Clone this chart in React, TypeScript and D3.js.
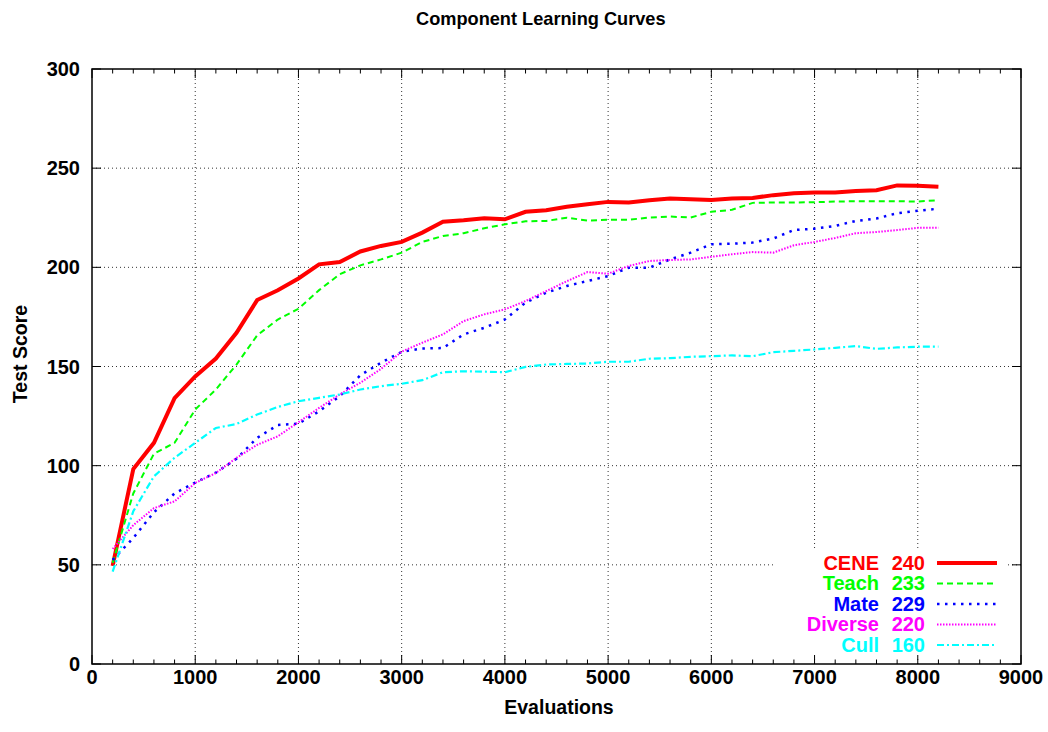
import React from "react";
import * as d3 from "d3";

const evaluations = [
  200, 400, 600, 800, 1000, 1200, 1400, 1600, 1800, 2000, 2200, 2400, 2600, 2800,
  3000, 3200, 3400, 3600, 3800, 4000, 4200, 4400, 4600, 4800, 5000, 5200, 5400,
  5600, 5800, 6000, 6200, 6400, 6600, 6800, 7000, 7200, 7400, 7600, 7800, 8000, 8200,
];

const ceneScores = [
  49.5, 98.3, 111.5, 134, 145, 154, 167, 183.5, 188.4, 194.4, 201.5, 202.7, 208, 210.8,
  212.8, 217.5, 223, 223.7, 224.7, 224.2, 228, 228.8, 230.5, 231.8, 233, 232.7, 233.8,
  234.7, 234.3, 234, 234.7, 235, 236.4, 237.4, 237.7, 237.7, 238.5, 238.9, 241.3, 241.1, 240.6,
];

const teachScores = [
  51, 86, 106, 111.5, 128.3, 138.4, 151, 165.7, 173.7, 179.1, 188.5, 196.5, 201, 204,
  207.4, 212.8, 215.8, 217.2, 219.7, 221.7, 223.2, 223.4, 225, 223.6, 224, 224, 225.1,
  225.6, 225.1, 228, 229, 232.5, 232.7, 232.7, 232.8, 233.2, 233.3, 233.3, 233.3, 233.2, 233.8,
];

const mateScores = [
  52.5, 63.5, 76.5, 86, 91.5, 96.5, 103.5, 114, 120.5, 121.2, 127.4, 135, 145.6, 151.9,
  157.4, 159.1, 159.3, 166.2, 169.5, 173.7, 182.2, 187.2, 190.6, 193.1, 195.6, 199.8, 199.8,
  204, 207.4, 211.6, 211.9, 212.5, 214.5, 218.8, 219.5, 220.9, 223.4, 224.6, 227.3, 228.5, 229.6,
];

const diverseScores = [
  58, 70, 78.6, 82, 91.3, 96.3, 103.9, 110.5, 114.8, 121.9, 129.1, 135.9, 141.8, 148.8,
  157.5, 162, 166.2, 172.9, 176.3, 178.8, 183, 188, 193, 197.6, 196.8, 200.7, 203.2,
  203.7, 204, 205.3, 206.6, 207.7, 207.4, 211.1, 212.8, 214.8, 217.2, 217.8, 218.8, 219.9, 219.9,
];

const cullScores = [
  46.6, 77, 94.6, 104, 111.5, 119, 121, 125.8, 129.6, 132.5, 134.2, 135.9, 138.4, 140.1,
  141.3, 143.1, 147.1, 147.6, 147.4, 147.1, 149.8, 151, 151.3, 151.5, 152.4, 152.4, 153.9,
  154.2, 154.9, 155.2, 155.6, 155.2, 157.2, 157.9, 158.6, 159.4, 160.3, 158.9, 159.6, 160, 160,
];

const seriesNames = ["CENE", "Teach", "Mate", "Diverse", "Cull"];
const seriesFinal = ["240", "233", "229", "220", "160"];
const seriesColors = ["#ff0000", "#00ff00", "#0000ff", "#ff00ff", "#00ffff"];
const seriesDash = ["none", "6,4", "2.5,5.5", "1.5,1.5", "7,3,2,3"];
const seriesWidth = [4, 2, 2.5, 2, 2.2];
const seriesData = [ceneScores, teachScores, mateScores, diverseScores, cullScores];

const xMajorTicks = [0, 1000, 2000, 3000, 4000, 5000, 6000, 7000, 8000, 9000];
const yMajorTicks = [0, 50, 100, 150, 200, 250, 300];

const W = 1048;
const H = 732;
const FONT = "'Liberation Sans', Arial, Helvetica, sans-serif";

export default function App() {
  const x = d3.scaleLinear().domain([0, 9000]).range([92, 1021]);
  const y = d3.scaleLinear().domain([0, 300]).range([664, 69]);
  const [x0, x1] = x.range();
  const [y0, y1] = y.range();
  const xMinor = d3.range(0, 9001, 200).filter((v) => v % 1000 !== 0);

  const line = (vals: number[]) =>
    d3
      .line<number>()
      .x((_, i) => x(evaluations[i]))
      .y((d) => y(d))(vals) || "";

  const legX = 937;
  const legBase = 569.5;
  const legStep = 20.5;

  return (
    <svg
      width={W}
      height={H}
      style={{ position: "absolute", left: 0, top: 0, background: "#fff" }}
      fontFamily={FONT}
      fontWeight="bold"
    >
      <rect x={0} y={0} width={W} height={H} fill="#fff" />
      {/* grid */}
      <g stroke="#333" strokeWidth={1} strokeDasharray="1,3">
        {xMajorTicks
          .filter((t) => t > 0 && t < 9000)
          .map((t) => (
            <line key={"gx" + t} x1={x(t)} x2={x(t)} y1={y0} y2={y1} />
          ))}
        {yMajorTicks
          .filter((t) => t > 0 && t < 300)
          .map((t) => (
            <line key={"gy" + t} x1={x0} x2={x1} y1={y(t)} y2={y(t)} />
          ))}
      </g>
      {/* legend background */}
      <rect x={776} y={551} width={230} height={105} fill="#fff" />
      {/* ticks */}
      <g stroke="#000" strokeWidth={1}>
        {xMajorTicks.map((t) => (
          <g key={"tx" + t}>
            <line x1={x(t)} x2={x(t)} y1={y0} y2={y0 - 9} />
            <line x1={x(t)} x2={x(t)} y1={y1} y2={y1 + 9} />
          </g>
        ))}
        {xMinor.map((t) => (
          <g key={"tm" + t}>
            <line x1={x(t)} x2={x(t)} y1={y0} y2={y0 - 4.5} />
            <line x1={x(t)} x2={x(t)} y1={y1} y2={y1 + 4.5} />
          </g>
        ))}
        {yMajorTicks.map((t) => (
          <g key={"ty" + t}>
            <line x1={x0} x2={x0 + 9} y1={y(t)} y2={y(t)} />
            <line x1={x1} x2={x1 - 9} y1={y(t)} y2={y(t)} />
          </g>
        ))}
      </g>
      {/* data lines */}
      {seriesData.map((vals, i) => (
        <path
          key={seriesNames[i]}
          d={line(vals)}
          fill="none"
          stroke={seriesColors[i]}
          strokeWidth={seriesWidth[i]}
          strokeDasharray={seriesDash[i]}
          strokeLinejoin="miter"
        />
      ))}
      {/* frame */}
      <rect
        x={x0}
        y={y1}
        width={x1 - x0}
        height={y0 - y1}
        fill="none"
        stroke="#000"
        strokeWidth={1.5}
      />
      {/* tick labels */}
      <g fontSize={20} fill="#000">
        {xMajorTicks.map((t) => (
          <text key={"lx" + t} x={x(t)} y={684} textAnchor="middle">
            {t}
          </text>
        ))}
        {yMajorTicks.map((t) => (
          <text key={"ly" + t} x={80} y={y(t) + 7} textAnchor="end">
            {t}
          </text>
        ))}
      </g>
      {/* titles */}
      <text x={416} y={25} fontSize={18.2} fill="#000">
        Component Learning Curves
      </text>
      <text x={559} y={714} fontSize={19.5} textAnchor="middle" fill="#000">
        Evaluations
      </text>
      <text
        transform={`translate(26.5,${354}) rotate(-90)`}
        fontSize={19.5}
        textAnchor="middle"
        fill="#000"
      >
        Test Score
      </text>
      {/* legend */}
      {seriesNames.map((name, i) => {
        const by = legBase + i * legStep;
        const ly = by - 6.5;
        return (
          <g key={"leg" + name} fill={seriesColors[i]} fontSize={20}>
            <text x={879} y={by} textAnchor="end">
              {name}
            </text>
            <text x={925} y={by} textAnchor="end">
              {seriesFinal[i]}
            </text>
            <line
              x1={legX}
              x2={legX + 60}
              y1={ly}
              y2={ly}
              stroke={seriesColors[i]}
              strokeWidth={seriesWidth[i]}
              strokeDasharray={seriesDash[i]}
            />
          </g>
        );
      })}
    </svg>
  );
}
